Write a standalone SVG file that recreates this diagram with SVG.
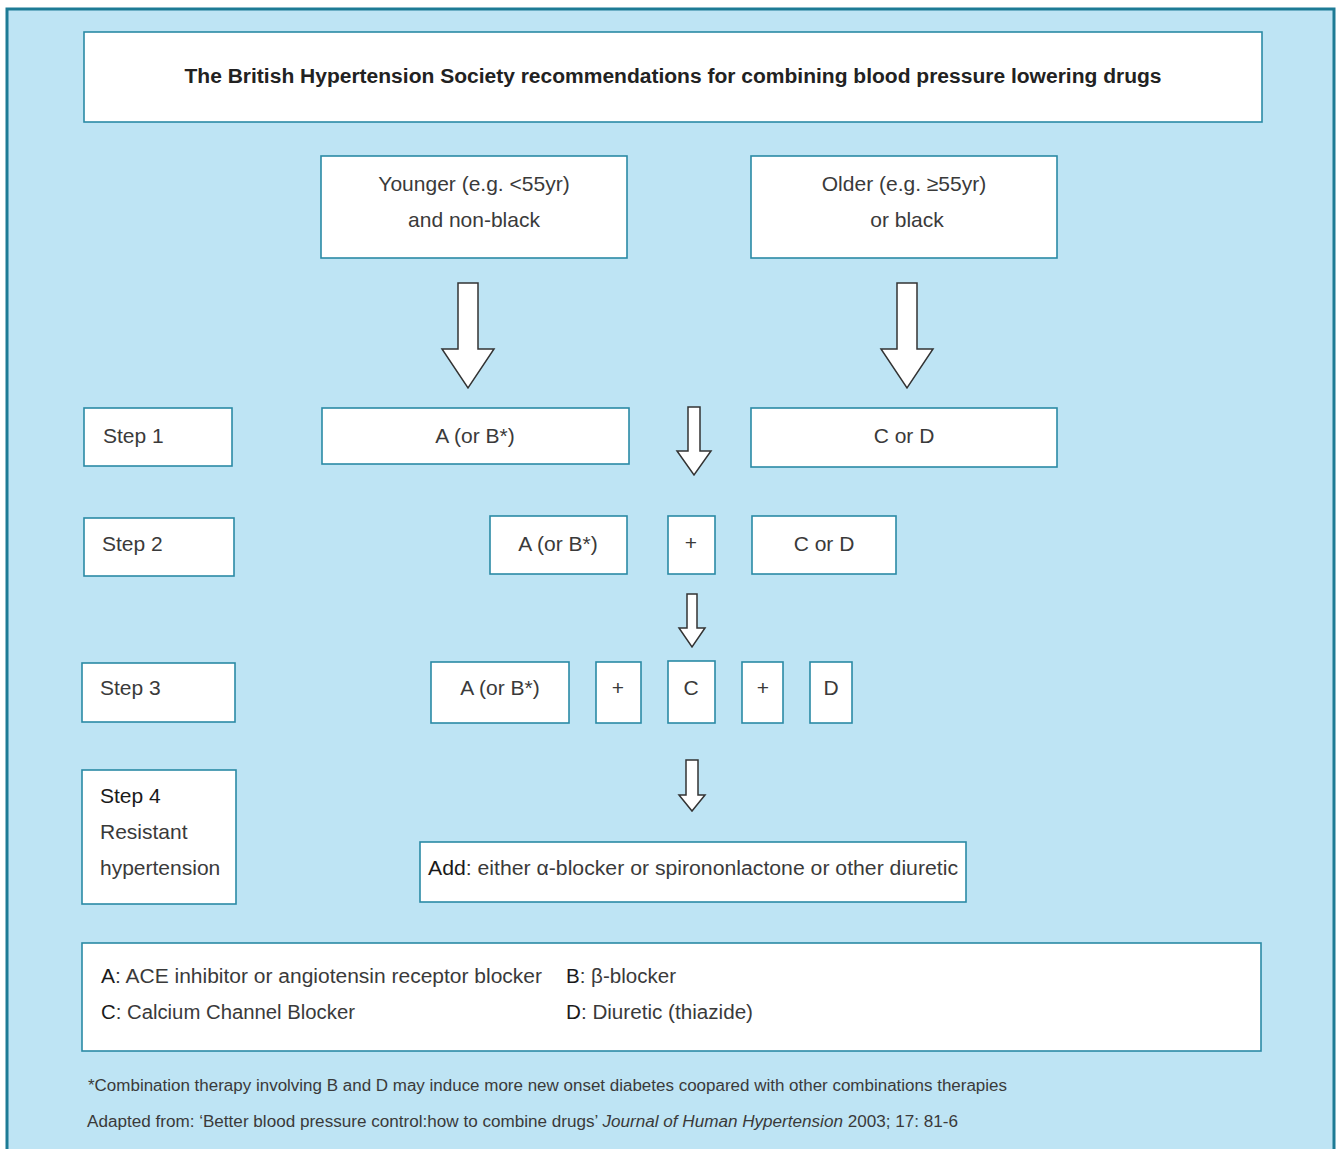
<svg xmlns="http://www.w3.org/2000/svg" width="1341" height="1149" viewBox="0 0 1341 1149">
<defs>
<style>
.box{fill:#fff;stroke:#2b8aa5;stroke-width:1.6}
.arr{fill:#fff;stroke:#333;stroke-width:1.5;stroke-linejoin:miter}
text{font-family:"Liberation Sans",Arial,sans-serif;fill:#3a3a3a;font-size:21px}
.c{text-anchor:middle}
.t{font-weight:bold;fill:#222;font-size:20px}
.d{fill:#1a1a1a}
.lg{font-size:20px}
.fn{font-size:16px}
</style>
</defs>
<rect x="0" y="0" width="1341" height="1149" fill="#fff"/>
<rect x="7" y="9" width="1327" height="1160" fill="#bee4f4" stroke="#1d7b95" stroke-width="3"/>

<g id="title"><rect class="box" x="84" y="32" width="1178" height="90"/><text class="c t" x="673" y="83" textLength="977" lengthAdjust="spacingAndGlyphs">The British Hypertension Society recommendations for combining blood pressure lowering drugs</text></g>

<g id="younger"><rect class="box" x="321" y="156" width="306" height="102"/><text class="c" x="474" y="191">Younger (e.g. &lt;55yr)</text><text class="c" x="474" y="227">and non-black</text></g>
<g id="older"><rect class="box" x="751" y="156" width="306" height="102"/><text class="c" x="904" y="191">Older (e.g. ≥55yr)</text><text class="c" x="907" y="227">or black</text></g>

<g id="step1"><rect class="box" x="84" y="408" width="148" height="58"/><text x="103" y="443">Step 1</text></g>
<g id="s1a"><rect class="box" x="322" y="408" width="307" height="56"/><text class="c" x="475" y="443">A (or B*)</text></g>
<g id="s1c"><rect class="box" x="751" y="408" width="306" height="59"/><text class="c" x="904" y="443">C or D</text></g>

<g id="step2"><rect class="box" x="84" y="518" width="150" height="58"/><text x="102" y="551">Step 2</text></g>
<g id="s2a"><rect class="box" x="490" y="516" width="137" height="58"/><text class="c" x="558" y="551">A (or B*)</text></g>
<g id="s2p"><rect class="box" x="668" y="516" width="47" height="58"/><text class="c" x="691" y="550" font-size="14">+</text></g>
<g id="s2c"><rect class="box" x="752" y="516" width="144" height="58"/><text class="c" x="824" y="551">C or D</text></g>

<g id="step3"><rect class="box" x="82" y="663" width="153" height="59"/><text x="100" y="695">Step 3</text></g>
<g id="s3a"><rect class="box" x="431" y="662" width="138" height="61"/><text class="c" x="500" y="695">A (or B*)</text></g>
<g id="s3p1"><rect class="box" x="596" y="662" width="45" height="61"/><text class="c" x="618" y="695" font-size="14">+</text></g>
<g id="s3c"><rect class="box" x="668" y="661" width="47" height="62"/><text class="c" x="691" y="695">C</text></g>
<g id="s3p2"><rect class="box" x="742" y="662" width="41" height="61"/><text class="c" x="763" y="695" font-size="14">+</text></g>
<g id="s3d"><rect class="box" x="810" y="662" width="42" height="61"/><text class="c" x="831" y="695">D</text></g>

<g id="step4"><rect class="box" x="82" y="770" width="154" height="134"/><text x="100" y="803" class="d">Step 4</text><text x="100" y="839">Resistant</text><text x="100" y="875">hypertension</text></g>
<g id="add"><rect class="box" x="420" y="842" width="546" height="60"/><text class="lg" x="428" y="875" textLength="530" lengthAdjust="spacingAndGlyphs"><tspan class="d">Add</tspan>: either α-blocker or spirononlactone or other diuretic</text></g>

<g id="legend"><rect class="box" x="82" y="943" width="1179" height="108"/>
<text class="lg" x="101" y="983" textLength="441" lengthAdjust="spacingAndGlyphs"><tspan class="d">A</tspan>: ACE inhibitor or angiotensin receptor blocker</text>
<text class="lg" x="566" y="983" textLength="110" lengthAdjust="spacingAndGlyphs"><tspan class="d">B</tspan>: β-blocker</text>
<text class="lg" x="101" y="1019" textLength="254" lengthAdjust="spacingAndGlyphs"><tspan class="d">C</tspan>: Calcium Channel Blocker</text>
<text class="lg" x="566" y="1019" textLength="187" lengthAdjust="spacingAndGlyphs"><tspan class="d">D</tspan>: Diuretic (thiazide)</text>
</g>

<g id="connectors">
<polygon class="arr" points="458,283 478,283 478,349 494,349 468,388 442,349 458,349"/>
<polygon class="arr" points="897,283 917,283 917,349 933,349 907,388 881,349 897,349"/>
<polygon class="arr" points="688,407 700,407 700,451 711,451 694,475 677,451 688,451"/>
<polygon class="arr" points="687,594 697,594 697,628 705,628 692,647 679,628 687,628"/>
<polygon class="arr" points="686,760 698,760 698,795 705,795 692,811 679,795 686,795"/>
</g>

<text class="fn" x="88" y="1091" textLength="919" lengthAdjust="spacingAndGlyphs">*Combination therapy involving B and D may induce more new onset diabetes coopared with other combinations therapies</text>
<text class="fn" x="87" y="1127" textLength="871" lengthAdjust="spacingAndGlyphs">Adapted from: ‘Better blood pressure control:how to combine drugs’ <tspan font-style="italic">Journal of Human Hypertension</tspan> 2003; 17: 81-6</text>
</svg>
